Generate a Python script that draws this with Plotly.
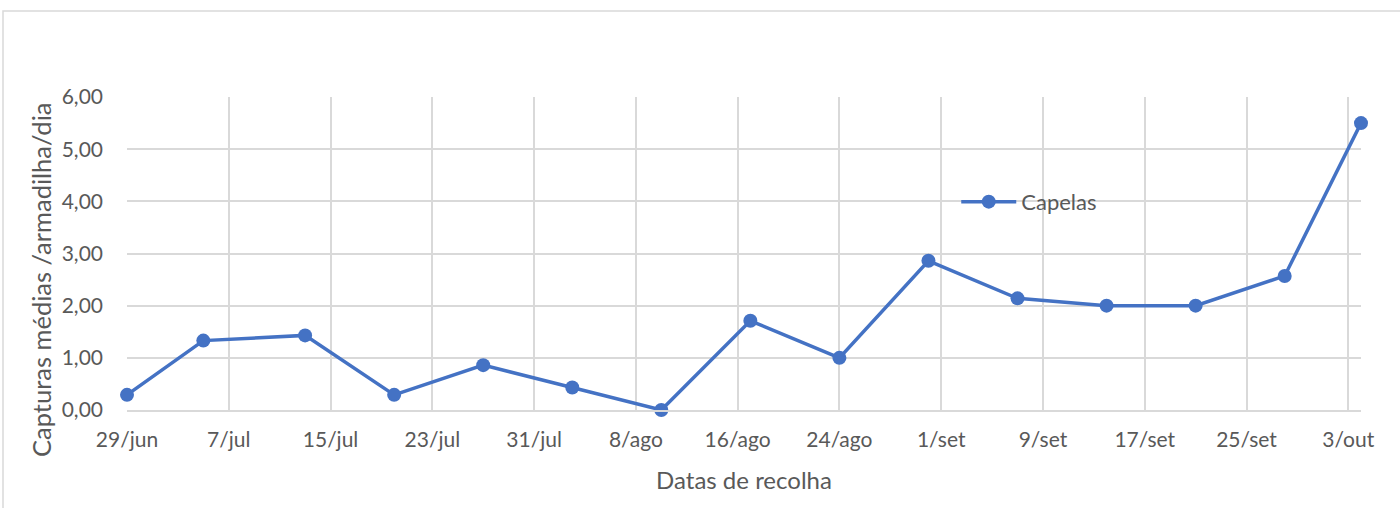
import plotly.graph_objects as go

dates = ["2021-06-29", "2021-07-05", "2021-07-13", "2021-07-20", "2021-07-27",
         "2021-08-03", "2021-08-10", "2021-08-17", "2021-08-24", "2021-08-31",
         "2021-09-07", "2021-09-14", "2021-09-21", "2021-09-28", "2021-10-04"]
capelas = [0.29, 1.33, 1.43, 0.29, 0.86, 0.43, 0.00, 1.71, 1.00, 2.86,
           2.14, 2.00, 2.00, 2.57, 5.50]

tick_dates = ["2021-06-29", "2021-07-07", "2021-07-15", "2021-07-23", "2021-07-31",
              "2021-08-08", "2021-08-16", "2021-08-24", "2021-09-01", "2021-09-09",
              "2021-09-17", "2021-09-25", "2021-10-03"]
tick_labels = ["29/jun", "7/jul", "15/jul", "23/jul", "31/jul", "8/ago", "16/ago",
               "24/ago", "1/set", "9/set", "17/set", "25/set", "3/out"]

y_title = "Capturas médias /armadilha/dia"
x_title = "Datas de recolha"

font_family = "Lato, 'Open Sans', sans-serif"
txt = "#595959"

fig = go.Figure()
fig.add_trace(go.Scatter(
    x=dates, y=capelas, mode="lines+markers", name="Capelas",
    line=dict(color="#4472C4", width=3.5),
    marker=dict(color="#4472C4", size=14),
    cliponaxis=False,
))

fig.update_layout(
    width=1400, height=508,
    margin=dict(l=127, r=39, t=97, b=98),
    paper_bgcolor="white", plot_bgcolor="white",
    separators=",.",
    font=dict(family=font_family, color=txt, size=21),
    showlegend=True,
    legend=dict(x=0.672, y=0.665, xanchor="left", yanchor="middle",
                itemwidth=55,
                bgcolor="rgba(0,0,0,0)", font=dict(size=22, color=txt)),
    xaxis=dict(
        type="date", range=["2021-06-29", "2021-10-04"],
        tickvals=tick_dates, ticktext=tick_labels,
        showgrid=True, gridcolor="#D9D9D9", gridwidth=1.5,
        showline=True, linecolor="#D9D9D9", linewidth=2,
        ticks="", ticklabelstandoff=10,
        title=dict(text=x_title, font=dict(size=24, color=txt), standoff=22),
    ),
    yaxis=dict(
        range=[0, 6], dtick=1, tickformat=".2f",
        showgrid=True, gridcolor="#D9D9D9", gridwidth=1.5,
        zeroline=False, showline=False,
        ticks="", ticklabelstandoff=23,
    ),
    annotations=[dict(text=y_title, textangle=-90, xref="paper", yref="paper",
                      x=(41 - 127) / 1234, y=(410 - 280) / 313,
                      xanchor="center", yanchor="middle", showarrow=False,
                      font=dict(size=25.5, color=txt))],
    shapes=[dict(type="rect", xref="paper", yref="paper",
                 x0=(3 - 127) / 1234, x1=1.2, y0=-0.5, y1=(410 - 11) / 313,
                 line=dict(color="#D9D9D9", width=1.5), fillcolor="rgba(0,0,0,0)",
                 layer="below")],
)

fig.write_html("out.html", config={"displayModeBar": False},
               post_script="document.body.style.margin='0px';document.body.style.overflow='hidden';")
